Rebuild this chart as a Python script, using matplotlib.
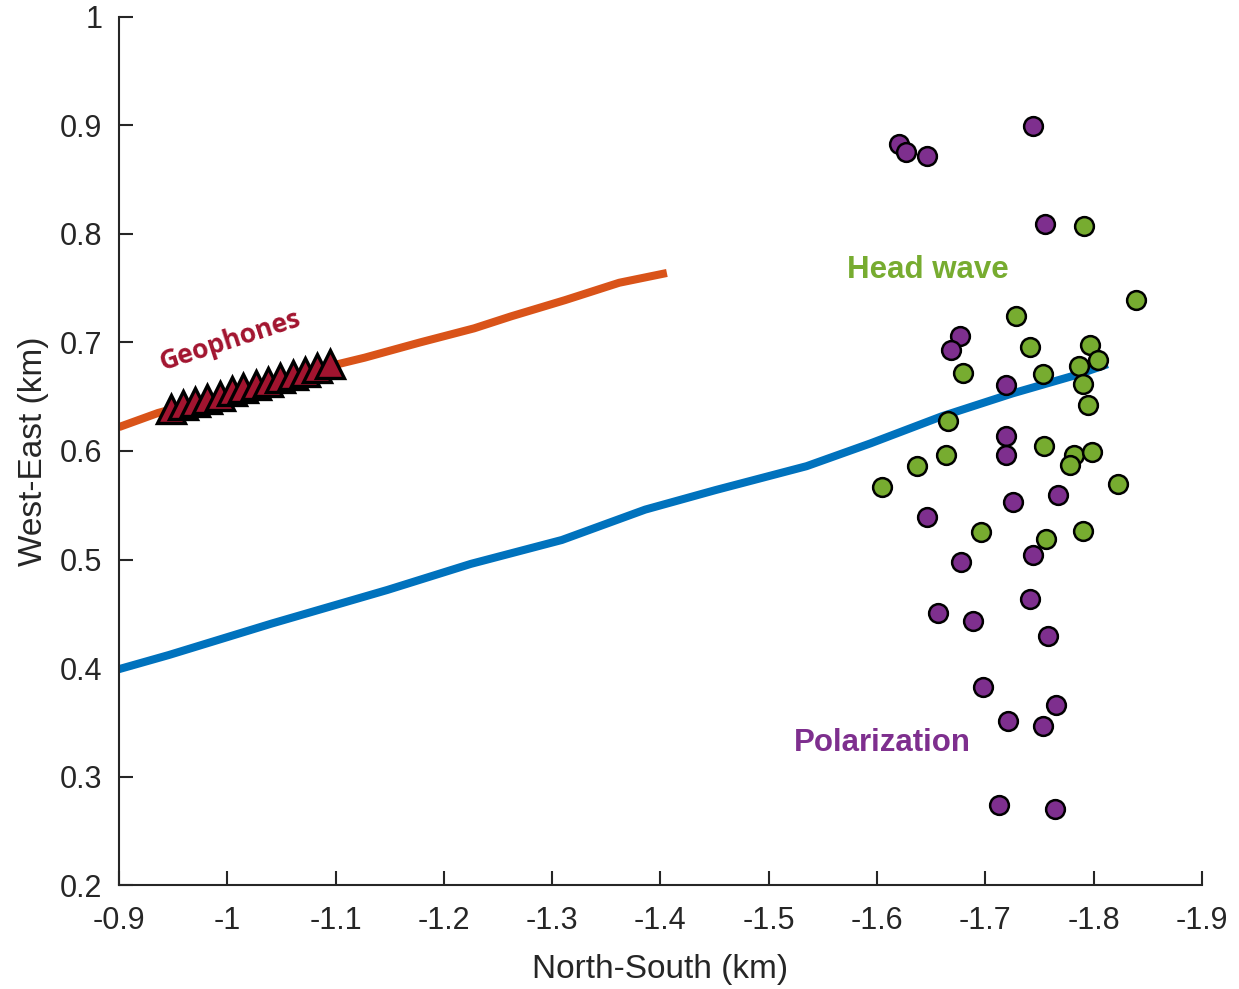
import numpy as np
import matplotlib.pyplot as plt
from matplotlib.ticker import FormatStrFormatter

plt.rcParams['font.family'] = ['Liberation Sans', 'DejaVu Sans']
plt.rcParams['axes.unicode_minus'] = False

# Lines (North-South km, West-East km)
blue_x = [-0.900, -0.946, -1.041, -1.148, -1.225, -1.309, -1.386, -1.451,
          -1.535, -1.594, -1.660, -1.725, -1.784, -1.813]
blue_y = [0.399, 0.412, 0.441, 0.472, 0.496, 0.518, 0.546, 0.564,
          0.586, 0.607, 0.632, 0.653, 0.670, 0.680]

orange_x = [-0.900, -0.936, -1.094, -1.127, -1.178, -1.228, -1.262, -1.312,
            -1.362, -1.406]
orange_y = [0.622, 0.635, 0.678, 0.686, 0.700, 0.713, 0.724, 0.739,
            0.755, 0.764]

# Geophones
geo_x = [-0.948, -0.959, -0.970, -0.981, -0.993, -1.004, -1.015, -1.027,
         -1.038, -1.049, -1.061, -1.072, -1.083, -1.095]
geo_y = [0.639, 0.642, 0.645, 0.648, 0.651, 0.655, 0.658, 0.661,
         0.664, 0.667, 0.670, 0.673, 0.676, 0.680]

# Head wave events
head_x = [-1.791, -1.839, -1.728, -1.741, -1.679, -1.753, -1.797, -1.804,
          -1.787, -1.790, -1.795, -1.666, -1.664, -1.637, -1.605, -1.754,
          -1.782, -1.778, -1.799, -1.823, -1.696, -1.756, -1.790]
head_y = [0.807, 0.739, 0.724, 0.696, 0.672, 0.671, 0.698, 0.684,
          0.678, 0.662, 0.642, 0.628, 0.596, 0.586, 0.567, 0.605,
          0.596, 0.587, 0.599, 0.570, 0.525, 0.519, 0.526]

# Polarization events
pol_x = [-1.620, -1.627, -1.646, -1.744, -1.755, -1.677, -1.668, -1.719,
         -1.719, -1.719, -1.726, -1.767, -1.646, -1.678, -1.744, -1.741,
         -1.656, -1.689, -1.758, -1.698, -1.765, -1.721, -1.753, -1.713,
         -1.764]
pol_y = [0.883, 0.875, 0.872, 0.899, 0.809, 0.706, 0.693, 0.661,
         0.614, 0.596, 0.553, 0.559, 0.539, 0.498, 0.504, 0.464,
         0.451, 0.443, 0.430, 0.383, 0.366, 0.351, 0.347, 0.274,
         0.270]

blue = '#0072BD'
orange = '#D95319'
green = '#77AC30'
purple = '#7E2F8E'
darkred = '#A2142F'
axcol = '#262626'

fig = plt.figure(figsize=(12.39, 9.89), dpi=100)
ax = fig.add_axes([0.096, 0.105, 0.874, 0.878])

ax.plot(blue_x, blue_y, color=blue, lw=5.8, solid_capstyle='butt', zorder=2)
ax.plot(orange_x, orange_y, color=orange, lw=5.8, solid_capstyle='butt', zorder=2)
ax.plot(geo_x, geo_y, '^', ms=20, mfc=darkred, mec='black', mew=2.4, ls='none', zorder=3)
ax.plot(head_x, head_y, 'o', ms=13.5, mfc=green, mec='black', mew=1.8, ls='none', zorder=3)
ax.plot(pol_x, pol_y, 'o', ms=13.5, mfc=purple, mec='black', mew=1.8, ls='none', zorder=3)

ax.text(-1.572, 0.767, 'Head wave', color=green, fontsize=22.5, fontweight='bold',
        ha='left', va='center')
ax.text(-1.523, 0.331, 'Polarization', color=purple, fontsize=22.5, fontweight='bold',
        ha='left', va='center')
ax.text(-1.003, 0.702, 'Geophones', color=darkred, fontsize=19, fontweight='bold',
        rotation=18, ha='center', va='center', family=['Open Sans', 'DejaVu Sans'])

ax.set_xlim(-0.9, -1.9)
ax.set_ylim(0.2, 1.0)
ax.set_xticks(np.arange(-0.9, -1.95, -0.1))
ax.set_yticks(np.arange(0.2, 1.05, 0.1))
ax.xaxis.set_major_formatter(FormatStrFormatter('%g'))
ax.yaxis.set_major_formatter(FormatStrFormatter('%g'))

for s in ['top', 'right']:
    ax.spines[s].set_visible(False)
for s in ['left', 'bottom']:
    ax.spines[s].set_linewidth(1.5)
    ax.spines[s].set_color(axcol)
ax.tick_params(direction='in', length=10, width=1.5, colors=axcol, labelsize=22)
ax.tick_params(axis='x', pad=15)
ax.tick_params(axis='y', pad=12)

ax.set_xlabel('North-South (km)', fontsize=24, color=axcol, labelpad=13)
ax.set_ylabel('West-East (km)', fontsize=24, color=axcol, labelpad=8)

fig.savefig('out.png', dpi=100)
